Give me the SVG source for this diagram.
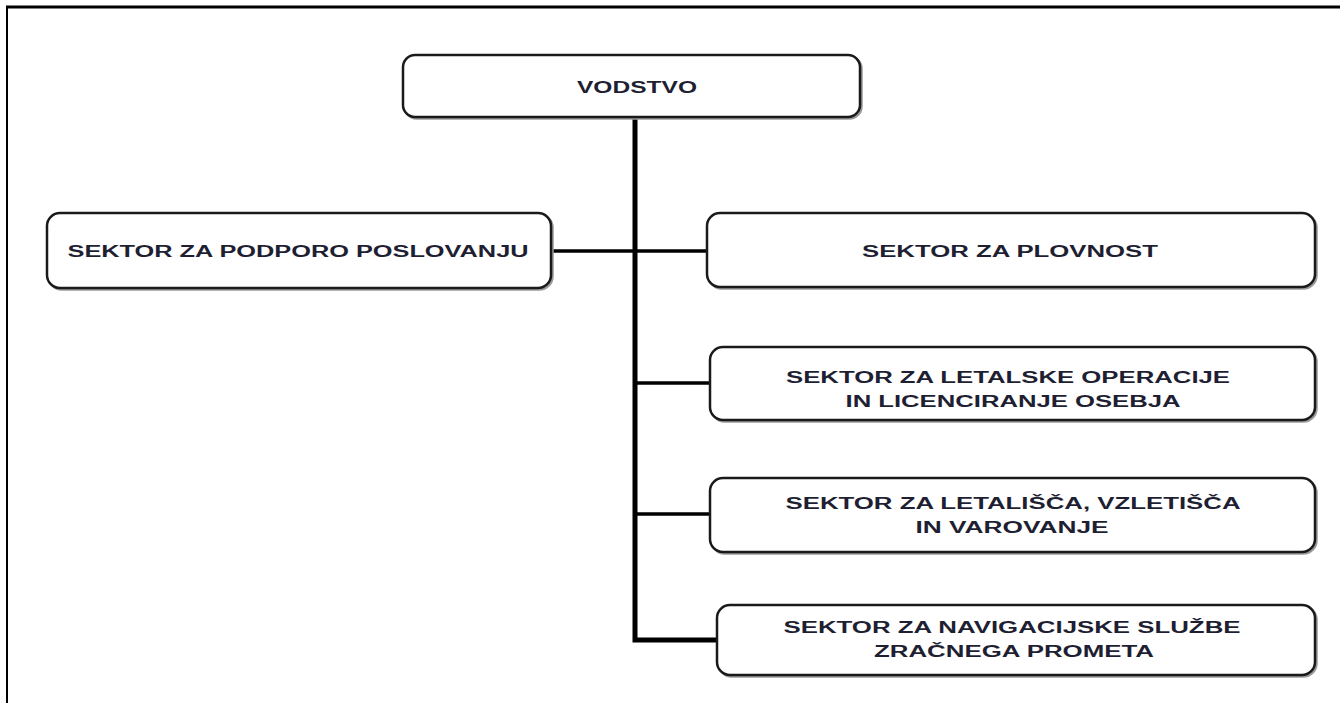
<svg xmlns="http://www.w3.org/2000/svg" width="1340" height="703" viewBox="0 0 1340 703">
  <defs>
    <style>
      .box { fill: #ffffff; stroke: #1a1a1a; stroke-width: 2.5; }
      .shadow { fill: none; stroke: #9a9a9a; stroke-width: 2.5; }
      .lbl { font-family: "Liberation Sans", Arial, sans-serif; font-weight: bold; font-size: 16px; fill: #1f1f33; text-anchor: middle; }
      .trunk { stroke: #000; stroke-width: 5; fill: none; }
      .branch { stroke: #000; stroke-width: 3.5; fill: none; }
      .frame { stroke: #000; fill: none; }
    </style>
  </defs>
  <rect x="0" y="0" width="1340" height="703" fill="#ffffff"/>
  <g id="frame">
    <line class="frame" x1="6" y1="7" x2="1340" y2="7" stroke-width="3"/>
    <line class="frame" x1="7" y1="6" x2="7" y2="703" stroke-width="2"/>
  </g>
  <g id="connectors">
    <polyline class="trunk" points="635,117 635,640 717,640"/>
    <line class="branch" x1="552" y1="251" x2="707" y2="251"/>
    <line class="branch" x1="635" y1="383" x2="710" y2="383"/>
    <line class="branch" x1="635" y1="514" x2="710" y2="514"/>
  </g>
  <g id="vodstvo">
    <rect class="shadow" x="404.5" y="56.5" width="457" height="62" rx="12"/>
    <rect class="box" x="403" y="55" width="457" height="62" rx="12"/>
    <text class="lbl" x="637" y="93" textLength="120" lengthAdjust="spacingAndGlyphs">VODSTVO</text>
  </g>
  <g id="podporo">
    <rect class="shadow" x="48.5" y="214.5" width="504" height="75" rx="13"/>
    <rect class="box" x="47" y="213" width="504" height="75" rx="13"/>
    <text class="lbl" x="298" y="257" textLength="461" lengthAdjust="spacingAndGlyphs">SEKTOR ZA PODPORO POSLOVANJU</text>
  </g>
  <g id="plovnost">
    <rect class="shadow" x="708.5" y="214.5" width="608" height="74" rx="13"/>
    <rect class="box" x="707" y="213" width="608" height="74" rx="13"/>
    <text class="lbl" x="1010" y="257" textLength="296" lengthAdjust="spacingAndGlyphs">SEKTOR ZA PLOVNOST</text>
  </g>
  <g id="letalske">
    <rect class="shadow" x="711.5" y="348.5" width="605" height="73" rx="13"/>
    <rect class="box" x="710" y="347" width="605" height="73" rx="13"/>
    <text class="lbl" x="1008" y="383" textLength="444" lengthAdjust="spacingAndGlyphs">SEKTOR ZA LETALSKE OPERACIJE</text>
    <text class="lbl" x="1013" y="407" textLength="335" lengthAdjust="spacingAndGlyphs">IN LICENCIRANJE OSEBJA</text>
  </g>
  <g id="letalisca">
    <rect class="shadow" x="711.5" y="479.5" width="605" height="74" rx="13"/>
    <rect class="box" x="710" y="478" width="605" height="74" rx="13"/>
    <text class="lbl" x="1013" y="509" textLength="455" lengthAdjust="spacingAndGlyphs">SEKTOR ZA LETALIŠČA, VZLETIŠČA</text>
    <text class="lbl" x="1012" y="533" textLength="193" lengthAdjust="spacingAndGlyphs">IN VAROVANJE</text>
  </g>
  <g id="navigacijske">
    <rect class="shadow" x="718.5" y="606.5" width="598" height="70" rx="13"/>
    <rect class="box" x="717" y="605" width="598" height="70" rx="13"/>
    <text class="lbl" x="1012" y="633" textLength="457" lengthAdjust="spacingAndGlyphs">SEKTOR ZA NAVIGACIJSKE SLUŽBE</text>
    <text class="lbl" x="1014" y="657" textLength="280" lengthAdjust="spacingAndGlyphs">ZRAČNEGA PROMETA</text>
  </g>
</svg>
